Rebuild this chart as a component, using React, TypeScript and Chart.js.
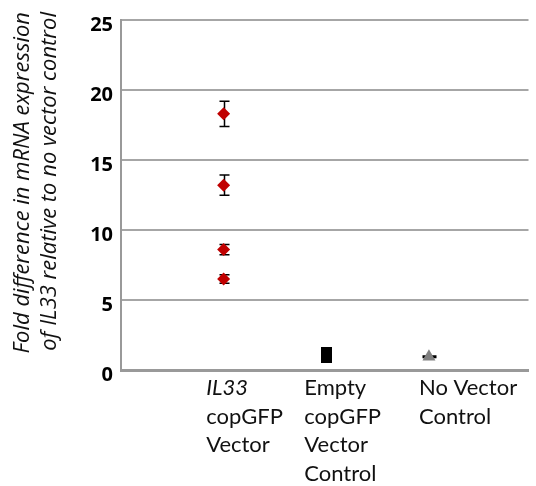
import { useEffect, useRef } from 'react';
import { Chart, registerables } from 'chart.js';

Chart.register(...registerables);

// Groups along the x axis (value 1, 2, 3) and their wrapped label lines
const groupX = [1, 2, 3];
const groupLines = [
  ['IL33', 'copGFP', 'Vector'],
  ['Empty', 'copGFP', 'Vector', 'Control'],
  ['No Vector', 'Control'],
];
// Lines drawn in italic (gene name)
const italicLines = ['IL33'];

// Fold change replicates and their error (±)
const il33Fold = [18.3, 13.2, 8.6, 6.5];
const il33Err = [0.9, 0.72, 0.36, 0.3];
const emptyFold = [1.1];
const emptyErr = [0.3];
const noVectorFold = [0.95];
const noVectorErr = [0.05];

const yTicks = [0, 5, 10, 15, 20, 25];
const yTitle = ['Fold difference in mRNA expression', 'of IL33 relative to no vector control'];

const FONT = 'Lato, "Open Sans", sans-serif';
const TITLE_FONT = '"Open Sans", Lato, sans-serif';
// horizontal shift of each group's label block from its group position
const labelShift = [-17.5, -22, -10];

function makeRectMarker(w: number, h: number, color: string) {
  const c = document.createElement('canvas');
  c.width = w;
  c.height = h;
  const g = c.getContext('2d')!;
  g.fillStyle = color;
  g.fillRect(0, 0, w, h);
  return c;
}

const errorBarPlugin = {
  id: 'errorBars',
  beforeDatasetsDraw(chart: any) {
    const { ctx } = chart;
    const xs = chart.scales.x;
    const ys = chart.scales.y;
    ctx.save();
    ctx.strokeStyle = '#000';
    ctx.lineWidth = 1.5;
    chart.data.datasets.forEach((ds: any) => {
      const errs: number[] = ds.errors || [];
      ds.data.forEach((p: any, i: number) => {
        const e = errs[i];
        if (!e) return;
        const x = Math.round(xs.getPixelForValue(p.x)) + 0.5;
        const yt = ys.getPixelForValue(p.y + e);
        const yb = ys.getPixelForValue(p.y - e);
        const cap = ds.capWidth / 2;
        ctx.beginPath();
        ctx.moveTo(x, yt);
        ctx.lineTo(x, yb);
        ctx.moveTo(x - cap, yt);
        ctx.lineTo(x + cap, yt);
        ctx.moveTo(x - cap, yb);
        ctx.lineTo(x + cap, yb);
        ctx.stroke();
      });
    });
    ctx.restore();
  },
};

const labelsPlugin = {
  id: 'groupLabels',
  afterDraw(chart: any) {
    const { ctx } = chart;
    const xs = chart.scales.x;
    const bottom = chart.chartArea.bottom;
    ctx.save();
    ctx.fillStyle = '#111';
    ctx.textBaseline = 'alphabetic';
    ctx.textAlign = 'left';
    groupX.forEach((gx, gi) => {
      const left = xs.getPixelForValue(gx) + labelShift[gi];
      groupLines[gi].forEach((line, li) => {
        const italic = italicLines.includes(line);
        ctx.font = `${italic ? 'italic ' : ''}22px ${FONT}`;
        ctx.fillText(line, left, bottom + 25 + li * 28.5);
      });
    });
    // rotated axis title, lines aligned at their ends
    ctx.font = `italic 22px ${TITLE_FONT}`;
    ctx.textAlign = 'right';
    ctx.textBaseline = 'middle';
    yTitle.forEach((line, li) => {
      ctx.save();
      ctx.translate(23 + li * 27, 12);
      ctx.rotate(-Math.PI / 2);
      ctx.fillText(line, 0, 0);
      ctx.restore();
    });
    ctx.restore();
  },
};

export default function App() {
  const ref = useRef<HTMLCanvasElement>(null);

  useEffect(() => {
    if (!ref.current) return;
    const chart = new Chart(ref.current, {
      type: 'scatter',
      data: {
        datasets: [
          {
            label: 'IL33 copGFP Vector',
            data: il33Fold.map((v) => ({ x: groupX[0], y: v })),
            errors: il33Err,
            capWidth: 10,
            pointStyle: 'rectRot',
            pointRadius: 6.5,
            backgroundColor: '#c00000',
            borderColor: '#c00000',
            borderWidth: 0,
          } as any,
          {
            label: 'Empty copGFP Vector Control',
            data: emptyFold.map((v) => ({ x: groupX[1], y: v })),
            errors: emptyErr,
            capWidth: 10,
            pointStyle: makeRectMarker(11, 16, '#000'),
            backgroundColor: '#000',
            borderColor: '#000',
          } as any,
          {
            label: 'No Vector Control',
            data: noVectorFold.map((v) => ({ x: groupX[2], y: v })),
            errors: noVectorErr,
            capWidth: 14,
            pointStyle: 'triangle',
            pointRadius: 7.5,
            backgroundColor: '#808080',
            borderColor: '#808080',
            borderWidth: 0,
          } as any,
        ],
      },
      options: {
        animation: false,
        responsive: true,
        maintainAspectRatio: false,
        layout: { padding: { top: 19, left: 0, right: 0, bottom: 0 } },
        plugins: {
          legend: { display: false },
          tooltip: { enabled: false },
        },
        scales: {
          x: {
            type: 'linear',
            min: 0,
            max: 3.97,
            ticks: { display: false },
            grid: { display: false },
            border: { display: true, color: '#999999', width: 3 },
            afterFit: (s: any) => {
              s.height = 116;
            },
          },
          y: {
            type: 'linear',
            min: 0,
            max: 25,
            afterBuildTicks: (s: any) => {
              s.ticks = yTicks.map((v) => ({ value: v }));
            },
            ticks: {
              padding: 8,
              labelOffset: 5,
              color: '#000',
              font: { family: TITLE_FONT, size: 20, weight: 'bold' },
            },
            grid: {
              drawTicks: false,
              color: (c: any) => (c.tick && c.tick.value === 0 ? 'rgba(0,0,0,0)' : '#a6a6a6'),
              lineWidth: 2,
            },
            border: { display: true, color: '#999999', width: 2 },
            afterFit: (s: any) => {
              s.width = 121;
            },
          },
        },
      },
      plugins: [errorBarPlugin, labelsPlugin],
    });
    return () => chart.destroy();
  }, []);

  return (
    <div style={{ position: 'fixed', left: 0, top: 0, width: 536, height: 486, background: '#fff' }}>
      <canvas ref={ref} />
    </div>
  );
}
